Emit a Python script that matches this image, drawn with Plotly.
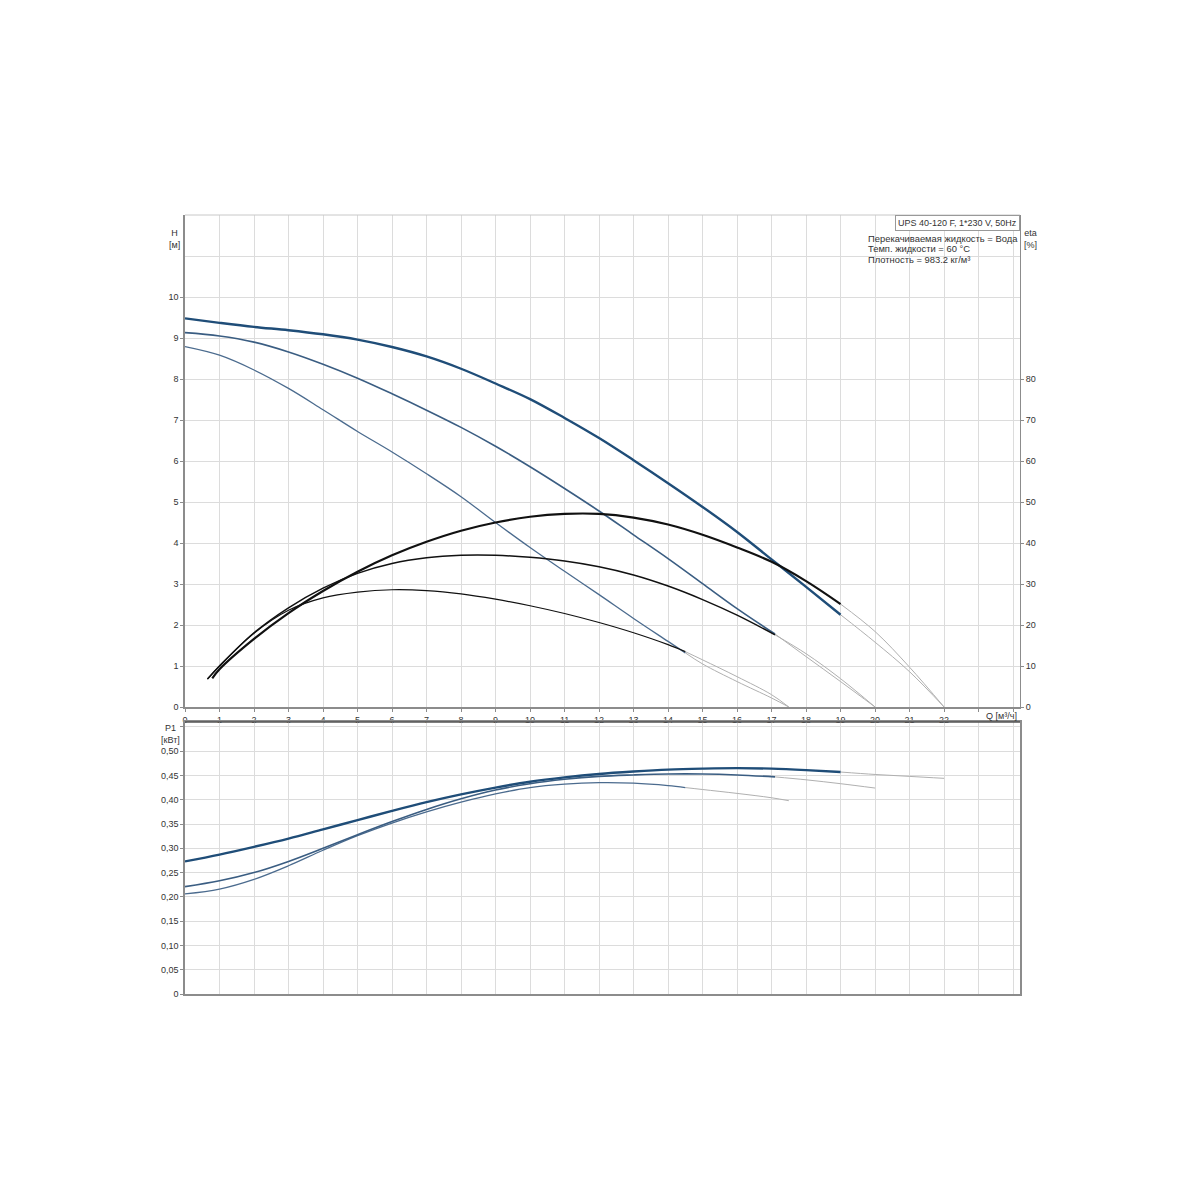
import plotly.graph_objects as go

# ---------------- data ----------------
# Head curves H [m]
Q_h1 = [0, 1, 2, 3, 4, 5, 6, 7, 8, 9, 10, 11, 12, 13, 14, 15, 16, 17, 18, 19]
H1 = [9.48, 9.37, 9.27, 9.19, 9.09, 8.96, 8.78, 8.55, 8.25, 7.89, 7.51, 7.05, 6.56, 6.02, 5.46, 4.88, 4.27, 3.60, 2.93, 2.25]
Q_h1_ext = [19, 20, 21, 22]
H1_ext = [2.25, 1.58, 0.86, 0.0]

Q_h2 = [0, 1, 2, 3, 4, 5, 6, 7, 8, 9, 10, 11, 12, 13, 14, 15, 16, 17.1]
H2 = [9.13, 9.05, 8.90, 8.66, 8.36, 8.02, 7.64, 7.24, 6.82, 6.36, 5.86, 5.33, 4.78, 4.20, 3.62, 3.01, 2.40, 1.78]
Q_h2_ext = [17.1, 18, 19, 20]
H2_ext = [1.78, 1.23, 0.62, 0.0]

Q_h3 = [0, 1, 2, 3, 4, 5, 6, 7, 8, 9, 10, 11, 12, 13, 14, 14.5]
H3 = [8.79, 8.58, 8.22, 7.77, 7.25, 6.72, 6.22, 5.69, 5.13, 4.50, 3.89, 3.31, 2.74, 2.16, 1.60, 1.32]
Q_h3_ext = [14.5, 15, 16, 17, 17.5]
H3_ext = [1.32, 1.05, 0.62, 0.22, 0.0]

# Efficiency curves eta [%]
Q_e1 = [0.79, 1, 2, 3, 4, 5, 6, 7, 8, 9, 10, 11, 12, 13, 14, 15, 16, 17, 18, 19]
E1 = [7.0, 9.2, 16.6, 22.9, 28.3, 33.0, 37.0, 40.3, 43.0, 45.0, 46.4, 47.1, 47.1, 46.2, 44.5, 42.0, 38.9, 35.4, 30.7, 25.1]
Q_e1_ext = [19, 20, 21, 22]
E1_ext = [25.1, 18.4, 9.7, 0.0]

Q_e2 = [0.65, 1, 2, 3, 4, 5, 6, 7, 8, 9, 10, 11, 12, 13, 14, 15, 16, 17.1]
E2 = [6.8, 10.0, 18.1, 24.2, 29.0, 32.6, 35.0, 36.4, 37.0, 37.0, 36.5, 35.6, 34.2, 32.2, 29.5, 26.2, 22.4, 17.6]
Q_e2_ext = [17.1, 18, 19, 20]
E2_ext = [17.6, 13.0, 6.9, 0.0]

Q_e3 = [0.65, 1, 2, 3, 4, 5, 6, 7, 8, 9, 10, 11, 12, 13, 14, 14.5]
E3 = [6.8, 10.0, 18.0, 23.6, 26.6, 28.0, 28.6, 28.4, 27.6, 26.3, 24.7, 22.8, 20.6, 18.1, 15.2, 13.5]
Q_e3_ext = [14.5, 15, 16, 17, 17.5]
E3_ext = [13.5, 11.5, 7.4, 3.0, 0.0]

# Power curves P1 [kW]
Q_p1 = [0, 1, 2, 3, 4, 5, 6, 7, 8, 9, 10, 11, 12, 13, 14, 15, 16, 17, 18, 19]
P1 = [0.273, 0.287, 0.303, 0.320, 0.339, 0.358, 0.377, 0.395, 0.411, 0.425, 0.437, 0.446, 0.453, 0.458, 0.462, 0.464, 0.465, 0.464, 0.461, 0.457]
Q_p1_ext = [19, 20, 21, 22]
P1_ext = [0.457, 0.452, 0.448, 0.444]

Q_p2 = [0, 1, 2, 3, 4, 5, 6, 7, 8, 9, 10, 11, 12, 13, 14, 15, 16, 17.1]
P2 = [0.221, 0.233, 0.250, 0.273, 0.300, 0.328, 0.355, 0.380, 0.402, 0.420, 0.433, 0.442, 0.448, 0.451, 0.453, 0.453, 0.451, 0.447]
Q_p2_ext = [17.1, 18, 19, 20]
P2_ext = [0.447, 0.441, 0.433, 0.424]

Q_p3 = [0, 1, 2, 3, 4, 5, 6, 7, 8, 9, 10, 11, 12, 13, 14, 14.5]
P3 = [0.206, 0.216, 0.236, 0.264, 0.296, 0.326, 0.352, 0.375, 0.395, 0.412, 0.425, 0.432, 0.435, 0.434, 0.429, 0.425]
Q_p3_ext = [14.5, 15, 16, 17, 17.5]
P3_ext = [0.425, 0.421, 0.413, 0.404, 0.398]

x_ticks = list(range(0, 25))
x_ticktext = [str(v) if v <= 22 else "" for v in x_ticks]
h_ticks = list(range(0, 11))
h_extra_grid = [11, 12]
eta_ticks = list(range(0, 90, 10))
p_ticks = [0, 0.05, 0.10, 0.15, 0.20, 0.25, 0.30, 0.35, 0.40, 0.45, 0.50, 0.55]
p_ticktext = ["0", "0,05", "0,10", "0,15", "0,20", "0,25", "0,30", "0,35", "0,40", "0,45", "0,50", ""]

title_text = "UPS 40-120 F, 1*230 V, 50Hz"
info_lines = ["Перекачиваемая жидкость = Вода", "Темп. жидкости = 60 °C", "Плотность = 983.2 кг/м³"]

# ---------------- figure ----------------
BLUE1 = "#1f4d78"
BLUE2 = "#3a5d82"
BLUE3 = "#4b6b8e"
BLACK = "#111111"
GRAY = "#b0b0b0"
FONT = "Liberation Sans, Arial, sans-serif"

fig = go.Figure()

def add(x, y, color, width, xa="x", ya="y"):
    fig.add_trace(go.Scatter(x=x, y=y, mode="lines", xaxis=xa, yaxis=ya,
                             line=dict(color=color, width=width, shape="spline", smoothing=1.0),
                             hoverinfo="skip", showlegend=False))

# gray extensions first
add(Q_h1_ext, H1_ext, GRAY, 1)
add(Q_h2_ext, H2_ext, GRAY, 1)
add(Q_h3_ext, H3_ext, GRAY, 1)
add(Q_e1_ext, E1_ext, GRAY, 1, ya="y2")
add(Q_e2_ext, E2_ext, GRAY, 1, ya="y2")
add(Q_e3_ext, E3_ext, GRAY, 1, ya="y2")
add(Q_p1_ext, P1_ext, GRAY, 1, xa="x2", ya="y3")
add(Q_p2_ext, P2_ext, GRAY, 1, xa="x2", ya="y3")
add(Q_p3_ext, P3_ext, GRAY, 1, xa="x2", ya="y3")

# main curves
add(Q_h3, H3, BLUE3, 1.3)
add(Q_h2, H2, BLUE2, 1.6)
add(Q_h1, H1, BLUE1, 2.4)
add(Q_e3, E3, BLACK, 1.2, ya="y2")
add(Q_e2, E2, BLACK, 1.5, ya="y2")
add(Q_e1, E1, BLACK, 2.2, ya="y2")
add(Q_p3, P3, BLUE3, 1.3, xa="x2", ya="y3")
add(Q_p2, P2, BLUE2, 1.6, xa="x2", ya="y3")
add(Q_p1, P1, BLUE1, 2.4, xa="x2", ya="y3")

GRID = "#dcdcdc"
AXL = "#8c8c8c"
tickfont = dict(family=FONT, size=9, color="#333333")

# pixel geometry (page has 8px body margin)
PL, PR, PT, PB = 185, 1020, 215, 994
PW, PH = PR - PL, PB - PT
top_dom = [(PB - 707) / PH, 1.0]
bot_dom = [0.0, (PB - 722) / PH]

fig.update_layout(
    width=1200, height=1200,
    margin=dict(l=PL - 8, r=1200 - PR + 8, t=PT - 8, b=1200 - PB + 8),
    paper_bgcolor="white", plot_bgcolor="white",
    font=dict(family=FONT, size=9, color="#333333"),
    xaxis=dict(domain=[0, 1], anchor="y", range=[0, 24.2],
               tickvals=x_ticks, ticktext=x_ticktext, tickfont=tickfont,
               showgrid=True, gridcolor=GRID, gridwidth=1, zeroline=False,
               showline=True, linecolor=AXL, linewidth=1.5,
               ticks="outside", ticklen=3, tickcolor=AXL),
    yaxis=dict(domain=top_dom, anchor="x", range=[0, 12],
               tickvals=h_ticks, tickfont=tickfont,
               showgrid=True, gridcolor=GRID, gridwidth=1, zeroline=False,
               showline=True, linecolor=AXL, linewidth=1.5,
               ticks="outside", ticklen=3, tickcolor=AXL,
               minor=dict(tickvals=h_extra_grid, showgrid=True, gridcolor=GRID,
                          gridwidth=1, ticks="")),
    yaxis2=dict(overlaying="y", side="right", anchor="x", range=[0, 120],
                tickvals=eta_ticks, tickfont=tickfont,
                showgrid=False, zeroline=False,
                showline=True, linecolor=AXL, linewidth=1,
                ticks="outside", ticklen=3, tickcolor=AXL),
    xaxis2=dict(domain=[0, 1], anchor="y3", range=[0, 24.2],
                tickvals=x_ticks, showticklabels=False,
                showgrid=True, gridcolor=GRID, gridwidth=1, zeroline=False,
                showline=True, linecolor=AXL, linewidth=1.5, mirror=True,
                ticks=""),
    yaxis3=dict(domain=bot_dom, anchor="x2", range=[0, 0.56],
                tickvals=p_ticks, ticktext=p_ticktext, tickfont=tickfont,
                showgrid=True, gridcolor=GRID, gridwidth=1, zeroline=False,
                showline=True, linecolor=AXL, linewidth=1.5, mirror=True,
                ticks="outside", ticklen=3, tickcolor=AXL),
)

# top border of top plot (light)
fig.add_shape(type="line", xref="paper", yref="paper", x0=0, x1=1, y0=1, y1=1,
              line=dict(color="#c8c8c8", width=1))
# dark top line of bottom plot
fig.add_shape(type="line", xref="paper", yref="paper", x0=0, x1=1, y0=bot_dom[1], y1=bot_dom[1],
              line=dict(color="#555555", width=1.5))

ann_font = dict(family=FONT, size=9, color="#333333")
fig.add_annotation(xref="paper", yref="paper", x=(167 - PL) / PW, y=(PB - 226) / PH,
                   text="H<br>[м]", showarrow=False, font=ann_font, align="center")
fig.add_annotation(xref="paper", yref="paper", x=(1039 - PL) / PW, y=(PB - 226) / PH,
                   text="eta<br>[%]", showarrow=False, font=ann_font, align="center")
fig.add_annotation(xref="paper", yref="paper", x=(159 - PL) / PW, y=(PB - 734) / PH,
                   text="P1<br>[кВт]", showarrow=False, font=ann_font, align="center")
fig.add_annotation(xref="x", yref="paper", x=23.65, y=(PB - 716) / PH,
                   text="Q [м³/ч]", showarrow=False, font=ann_font)

fig.add_annotation(xref="paper", yref="paper", x=1.0, y=1.0, xanchor="right", yanchor="top",
                   text=title_text, showarrow=False, font=dict(family=FONT, size=9, color="#333333"),
                   bordercolor="#999999", borderwidth=1, borderpad=2, bgcolor="white")
for i, line in enumerate(info_lines):
    fig.add_annotation(xref="x", yref="paper", x=19.74, y=(PB - 238.5 - 10.3 * i) / PH,
                       xanchor="left", yanchor="middle", text=line, showarrow=False,
                       font=dict(family=FONT, size=9.4, color="#333333"))

fig.write_html("out.html")
